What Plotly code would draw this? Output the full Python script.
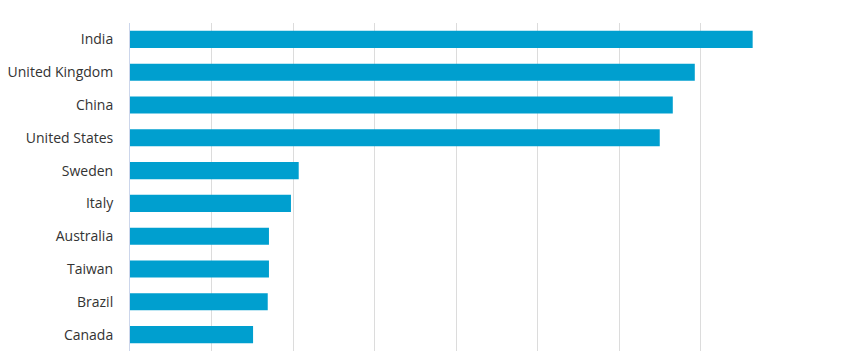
import plotly.graph_objects as go

countries = ["India", "United Kingdom", "China", "United States", "Sweden",
             "Italy", "Australia", "Taiwan", "Brazil", "Canada"]
values = [76.4, 69.3, 66.6, 65.0, 20.7, 19.75, 17.05, 17.05, 16.9, 15.1]

fig = go.Figure(go.Bar(
    y=countries, x=values, orientation="h",
    marker=dict(color="#009fcf", line=dict(width=0)),
    width=0.52,
))

# page body has an 8px default margin; margins compensate for it
fig.update_layout(
    width=861, height=358,
    margin=dict(l=122, r=87, t=15, b=15, autoexpand=False),
    plot_bgcolor="white", paper_bgcolor="white",
    showlegend=False,
    font=dict(family="Open Sans, sans-serif", size=14, color="#333333"),
    xaxis=dict(range=[0, 80], dtick=10, showticklabels=False,
               showgrid=True, gridcolor="#dcdcdc", gridwidth=1,
               zeroline=False, fixedrange=True, automargin=False),
    yaxis=dict(autorange="reversed", showgrid=False, zeroline=False,
               showline=True, linecolor="#ccd6eb", linewidth=1,
               ticks="", ticklabelstandoff=13, automargin=False,
               tickfont=dict(size=14, color="#333333")),
)

fig.write_html("out.html")
